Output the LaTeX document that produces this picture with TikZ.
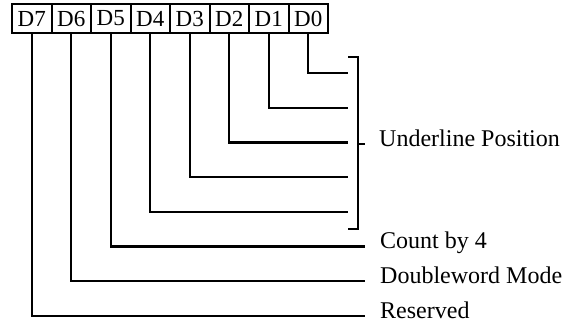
\documentclass[tikz,border=0pt]{standalone}
\usepackage{fontspec}
\setmainfont{Liberation Serif}
\usetikzlibrary{positioning}
\tikzset{
  bitbox/.style={draw,line width=2pt,minimum width=39.5pt,minimum height=29pt,inner sep=0pt,font=\fontsize{23}{26}\selectfont},
  wire/.style={line width=2.3pt},
  fieldlabel/.style={anchor=mid west,inner sep=0pt,font=\fontsize{24}{28}\selectfont}
}
\begin{document}
\begin{tikzpicture}[x=1pt,y=-1pt]
\useasboundingbox (0,0) rectangle (578,326);
% register bits, D7 on the left
\foreach \k [count=\c from 0] in {7,...,0}
  \node[bitbox] (b\k) at (12+39.5*\c+19.75,18.5) {D\k};
% low five bits run into the bracket
\foreach \k in {0,...,4}{
  \coordinate (e\k) at (348,73+34.7*\k);
  \draw[wire] (b\k.south) |- (e\k);
}
\coordinate (brtop) at (348,57);
\coordinate (brbot) at (348,229);
\coordinate (brmid) at (358,144);
\draw[wire] (brtop) -- ++(10,0) |- (brbot);
\node[fieldlabel] (upos) at (379,144) {Underline Position};
\draw[wire] (brmid) -- ([xshift=-14pt]upos.mid west);
% single-bit fields
\node[fieldlabel] (cnt) at (380,246.5) {Count by 4};
\node[fieldlabel] (dwm) at (380,281.2) {Doubleword Mode};
\node[fieldlabel] (rsv) at (380,315.9) {Reserved};
\draw[wire] (b5.south) |- ([xshift=-15pt]cnt.mid west);
\draw[wire] (b6.south) |- ([xshift=-15pt]dwm.mid west);
\draw[wire] (b7.south) |- ([xshift=-15pt]rsv.mid west);
\end{tikzpicture}
\end{document}
